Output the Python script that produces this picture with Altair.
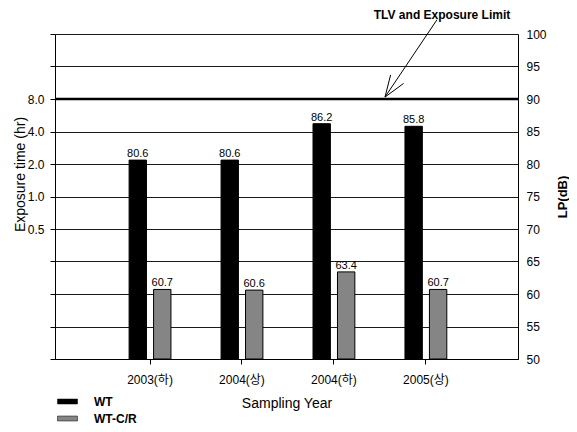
import altair as alt
import pandas as pd

categories = ["2003(하)", "2004(상)", "2004(하)", "2005(상)"]
series = ["WT", "WT-C/R"]
wt_values = [80.6, 80.6, 86.2, 85.8]
wtcr_values = [60.7, 60.6, 63.4, 60.7]
colors = ["#000000", "#858585"]
lp_ticks = [50, 55, 60, 65, 70, 75, 80, 85, 90, 95, 100]
exposure_labels = {90: "8.0", 85: "4.0", 80: "2.0", 75: "1.0", 70: "0.5"}
limit_db = 90

rows = []
for c, a, b in zip(categories, wt_values, wtcr_values):
    rows.append({"year": c, "series": series[0], "lp": a})
    rows.append({"year": c, "series": series[1], "lp": b})
df = pd.DataFrame(rows)

FONT = "Liberation Sans, Arial, Noto Sans CJK KR, sans-serif"

label_expr = " : ".join(
    [f"datum.value == {k} ? '{v}'" for k, v in exposure_labels.items()]
) + " : ''"

yscale = alt.Scale(domain=[50, 100], zero=False, nice=False)

xenc = alt.X(
    "year:N",
    sort=categories,
    scale=alt.Scale(paddingInner=0.545, paddingOuter=0.79, align=0.51),
    axis=alt.Axis(
        title="Sampling Year",
        labelAngle=0,
        labelFontSize=12,
        labelColor="black",
        labelPadding=10,
        tickSize=5,
        tickColor="black",
        domainColor="black",
        titleFontSize=14,
        titleFontWeight="normal",
        titleColor="black",
        titlePadding=11,
        labelFont=FONT,
        titleFont=FONT,
    ),
)
xoff = alt.XOffset("series:N", sort=series, scale=alt.Scale(paddingInner=0.29))

bars = alt.Chart(df).mark_bar(stroke="black", strokeWidth=1).encode(
    x=xenc,
    xOffset=xoff,
    y=alt.Y(
        "lp:Q",
        scale=yscale,
        axis=alt.Axis(
            orient="left",
            values=lp_ticks,
            labelExpr=label_expr,
            title="Exposure time (hr)",
            titleFontSize=14,
            titleFontWeight="normal",
            titleColor="black",
            titleX=-35,
            titleY=140,
            titleBaseline="middle",
            labelFontSize=12,
            labelColor="black",
            labelPadding=6,
            tickSize=5,
            tickColor="black",
            domainColor="black",
            grid=True,
            gridColor="#1a1a1a",
            gridWidth=1,
            labelFont=FONT,
            titleFont=FONT,
        ),
    ),
    y2=alt.datum(50),
    color=alt.Color(
        "series:N",
        sort=series,
        scale=alt.Scale(domain=series, range=colors),
        legend=alt.Legend(
            title=None,
            orient="none",
            legendX=2,
            legendY=357,
            symbolType="M-1,-0.25H1V0.25H-1Z",
            symbolSize=400,
            symbolStrokeColor="black",
            symbolStrokeWidth=0.5,
            labelFontSize=12,
            labelFontWeight="bold",
            labelColor="black",
            labelOffset=16,
            rowPadding=-2,
            labelFont=FONT,
        ),
    ),
)

labels = alt.Chart(df).mark_text(dy=-6, fontSize=11, font=FONT, color="black").encode(
    x=alt.X("year:N", sort=categories),
    xOffset=alt.XOffset("series:N", sort=series),
    y=alt.Y(
        "lp:Q",
        scale=yscale,
        axis=alt.Axis(
            orient="right",
            values=lp_ticks,
            title="LP(dB)",
            titleFontSize=13,
            titleFontWeight="bold",
            titleColor="black",
            titleAngle=270,
            titleX=44,
            titleBaseline="middle",
            labelFontSize=12,
            labelColor="black",
            labelPadding=8,
            ticks=False,
            domainColor="black",
            grid=False,
            labelFont=FONT,
            titleFont=FONT,
        ),
    ),
    text=alt.Text("lp:Q", format=".1f"),
)

limit_line = alt.Chart(pd.DataFrame({"v": [limit_db]})).mark_rule(
    color="black", strokeWidth=2.5
).encode(y=alt.Y("v:Q", scale=yscale, axis=None))

# Annotation arrow (y in dB units)
arrow_df = pd.DataFrame(
    {
        "x1": [382, 330, 330],
        "x2": [330, 348.6, 335.6],
        "y1": [102.2, 90.3, 90.3],
        "y2": [90.3, 92.4, 93.7],
    }
)
arrow = alt.Chart(arrow_df).mark_rule(color="black", strokeWidth=1).encode(
    x=alt.X("x1:Q", scale=None, axis=None),
    x2="x2:Q",
    y=alt.Y("y1:Q", scale=yscale, axis=None),
    y2="y2:Q",
)
note = alt.Chart(pd.DataFrame({"t": ["TLV and Exposure Limit"], "x": [387], "y": [103.0]})).mark_text(
    fontSize=12, fontWeight="bold", font=FONT, color="black"
).encode(
    x=alt.X("x:Q", scale=None, axis=None),
    y=alt.Y("y:Q", scale=yscale, axis=None),
    text="t:N",
)

chart = (
    alt.layer(bars, limit_line, labels, arrow, note)
    .resolve_axis(y="independent")
    .properties(
        width=463,
        height=325,
        autosize=alt.AutoSizeParams(type="none"),
        padding={"left": 47, "top": 26, "right": 51, "bottom": 65},
    )
    .configure_view(stroke="black", strokeWidth=1)
    .configure(font=FONT)
)

chart.save("out.html", embed_options={"renderer": "svg", "actions": False})
